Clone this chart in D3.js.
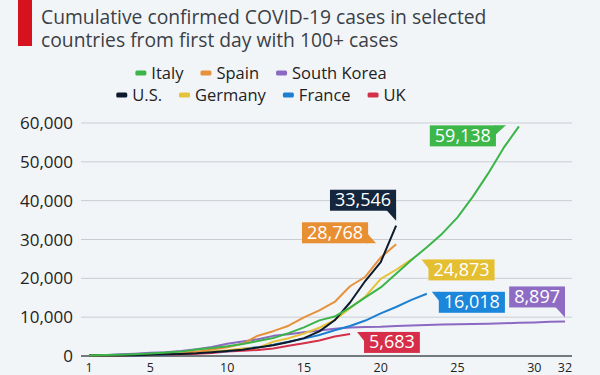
<!DOCTYPE html>
<html>
<head>
<meta charset="utf-8">
<script src="https://cdn.jsdelivr.net/npm/d3@7"></script>
<style>
  html, body { margin: 0; padding: 0; background: #f2f5f8; }
  svg { display: block; font-family: "Open Sans", sans-serif; }
</style>
</head>
<body>
<svg id="chart" width="600" height="375"></svg>
<script>
// Datos: casos acumulados desde el primer día con 100+ casos
const italy = [155, 229, 322, 453, 655, 888, 1128, 1694, 2036, 2502, 3089, 3858, 4636, 5883, 7375, 9172, 10149, 12462, 15113, 17660, 21157, 24747, 27980, 31506, 35713, 41035, 47021, 53578, 59138];
const spain = [120, 165, 222, 259, 400, 500, 673, 1073, 1695, 2277, 3146, 5232, 6391, 7798, 9942, 11748, 13910, 17963, 20410, 25374, 28768];
const southKorea = [104, 204, 433, 602, 833, 977, 1261, 1766, 2337, 3150, 3736, 4335, 5186, 5621, 6088, 6593, 7041, 7313, 7478, 7513, 7755, 7869, 7979, 8086, 8162, 8236, 8320, 8413, 8565, 8652, 8799, 8897];
const us = [100, 124, 158, 221, 319, 435, 541, 704, 994, 1301, 1630, 2183, 2770, 3613, 4596, 6344, 9197, 13779, 19367, 24192, 33546];
const germany = [130, 159, 196, 262, 482, 670, 799, 1040, 1176, 1457, 1908, 2078, 3675, 4585, 5795, 7272, 9257, 12327, 15320, 19848, 22213, 24873];
const france = [100, 130, 191, 204, 285, 377, 653, 949, 1126, 1209, 1784, 2281, 2876, 3661, 4469, 5423, 6633, 7730, 9134, 10995, 12612, 14459, 16018];
const uk = [115, 163, 206, 273, 321, 373, 456, 590, 798, 1140, 1372, 1543, 1950, 2626, 3269, 3983, 5018, 5683];

const xTicks = [1, 5, 10, 15, 20, 25, 30, 32];
const yTicks = [0, 10000, 20000, 30000, 40000, 50000, 60000];

const legendRows = [["Italy", "Spain", "South Korea"], ["U.S.", "Germany", "France", "UK"]];

// Series: nombre, valores, color y posición de la etiqueta final
const series = [
  { name: "South Korea", values: southKorea, color: "#8b68c2", box: "#8e6cc3", anchor: "right", dx: 0, dy: -35, tail: "down" },
  { name: "UK", values: uk, color: "#d3304a", box: "#d62e48", anchor: "left", dx: 14, dy: -2, tail: "left" },
  { name: "France", values: france, color: "#1d7fd0", box: "#1b86da", anchor: "left", dx: 12, dy: -2, tail: "left" },
  { name: "Germany", values: germany, color: "#e6c23a", box: "#e4bf31", anchor: "left", dx: 17, dy: 0, tail: "left" },
  { name: "Spain", values: spain, color: "#e8913b", box: "#e98f33", anchor: "right", dx: -28, dy: -22, tail: "right" },
  { name: "U.S.", values: us, color: "#0d1a2b", box: "#14263d", anchor: "right", dx: 0, dy: -36, tail: "down" },
  { name: "Italy", values: italy, color: "#3bb448", box: "#3db64a", anchor: "right", dx: -23, dy: -1, tail: "up" }
];

const svg = d3.select("#chart");
const W = 600, H = 375;

svg.append("rect").attr("width", W).attr("height", H).attr("fill", "#f2f5f8");

// Título con barra roja
svg.append("rect").attr("x", 18).attr("y", 0).attr("width", 14).attr("height", 46).attr("fill", "#d5121e");
["Cumulative confirmed COVID-19 cases in selected", "countries from first day with 100+ cases"]
  .forEach((txt, i) => {
    svg.append("text")
      .attr("x", 41).attr("y", 24 + i * 23)
      .attr("fill", "#3b4046")
      .attr("font-size", 19.3)
      .text(txt);
  });

// Escalas
const x = d3.scaleLinear().domain([1, 32]).range([89, 565]);
const y = d3.scaleLinear().domain([0, 60000]).range([356, 123]);

// Cuadrícula
svg.append("g")
  .selectAll("line")
  .data(yTicks.filter(d => d > 0))
  .join("line")
  .attr("x1", 81).attr("x2", 572)
  .attr("y1", d => y(d)).attr("y2", d => y(d))
  .attr("stroke", "#c9cdd3").attr("stroke-width", 1);

// Eje Y
svg.append("g")
  .selectAll("text")
  .data(yTicks)
  .join("text")
  .attr("x", 73).attr("y", d => y(d) + 6)
  .attr("text-anchor", "end")
  .attr("font-size", 17)
  .attr("fill", "#222")
  .text(d => d3.format(",")(d));

// Eje X
svg.append("line")
  .attr("x1", 81).attr("x2", 572)
  .attr("y1", y(0)).attr("y2", y(0))
  .attr("stroke", "#4a4f55").attr("stroke-width", 1.5);

svg.append("g")
  .selectAll("text")
  .data(xTicks)
  .join("text")
  .attr("x", d => x(d)).attr("y", 372)
  .attr("text-anchor", "middle")
  .attr("font-size", 12.5)
  .attr("fill", "#222")
  .text(d => d);

// Líneas
const line = d3.line()
  .x((d, i) => x(i + 1))
  .y(d => y(d));

svg.append("g")
  .selectAll("path")
  .data(series)
  .join("path")
  .attr("fill", "none")
  .attr("stroke", d => d.color)
  .attr("stroke-width", 2)
  .attr("stroke-linejoin", "round")
  .attr("d", d => line(d.values));

// Etiquetas finales
const fmt = d3.format(",");
const labels = svg.append("g");
series.forEach(s => {
  const n = s.values.length;
  const ex = x(n), ey = y(s.values[n - 1]);
  const g = labels.append("g");
  const t = g.append("text")
    .attr("font-size", 18)
    .attr("fill", "#fff")
    .attr("text-anchor", "middle")
    .text(fmt(s.values[n - 1]));
  const w = t.node().getComputedTextLength() + 10;
  const h = 21;
  const left = s.anchor === "left" ? ex + s.dx : ex + s.dx - w;
  const top = ey + s.dy;
  const right = left + w, bottom = top + h;
  let tri;
  if (s.tail === "left") tri = [[left - 7, top], [left + 1, top], [left + 1, top + 10]];
  else if (s.tail === "up") tri = [[right - 1, top], [right + 10, top], [right - 1, top + 10]];
  else if (s.tail === "down") tri = [[right - 10, bottom - 1], [right, bottom - 1], [right, bottom + 10]];
  else tri = [[right - 1, bottom - 10], [right - 1, bottom], [right + 8, bottom]];
  g.insert("path", "text")
    .attr("d", "M" + tri.join("L") + "Z")
    .attr("fill", s.box);
  g.insert("rect", "text")
    .attr("x", left).attr("y", top)
    .attr("width", w).attr("height", h)
    .attr("fill", s.box);
  t.attr("x", left + w / 2).attr("y", top + 16.5);
});

// Leyenda
const colorOf = new Map(series.map(s => [s.name, s.color]));
const legend = svg.append("g").attr("font-size", 16.5).attr("fill", "#222");
const legendCenter = 261;
legendRows.forEach((row, ri) => {
  const rowG = legend.append("g");
  let cx = 0;
  row.forEach((name, i) => {
    rowG.append("rect")
      .attr("x", cx).attr("y", -2.5)
      .attr("width", 11).attr("height", 5).attr("rx", 1.5)
      .attr("fill", colorOf.get(name));
    const t = rowG.append("text").attr("x", cx + 16).attr("y", 6).text(name);
    cx += 16 + t.node().getComputedTextLength() + 17;
  });
  const total = cx - 17;
  rowG.attr("transform", `translate(${legendCenter - total / 2},${ri === 0 ? 73 : 95})`);
});
</script>
</body>
</html>
